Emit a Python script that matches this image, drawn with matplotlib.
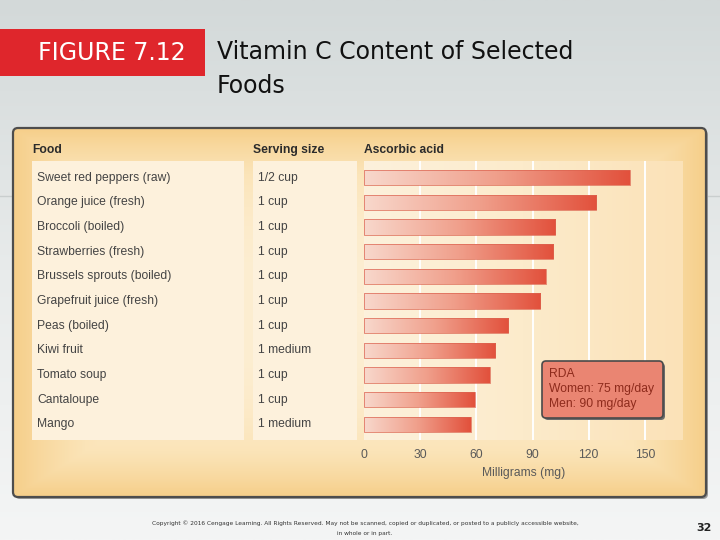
import numpy as np
import matplotlib
matplotlib.use("Agg")
import matplotlib.pyplot as plt
from matplotlib.patches import Rectangle, FancyBboxPatch
from matplotlib.transforms import blended_transform_factory
from matplotlib.colors import LinearSegmentedColormap

foods = ["Sweet red peppers (raw)", "Orange juice (fresh)", "Broccoli (boiled)",
         "Strawberries (fresh)", "Brussels sprouts (boiled)", "Grapefruit juice (fresh)",
         "Peas (boiled)", "Kiwi fruit", "Tomato soup", "Cantaloupe", "Mango"]
servings = ["1/2 cup", "1 cup", "1 cup", "1 cup", "1 cup", "1 cup",
            "1 cup", "1 medium", "1 cup", "1 cup", "1 medium"]
ascorbic_mg = [142, 124, 102, 101, 97, 94, 77, 70, 67, 59, 57]
xticks = [0, 30, 60, 90, 120, 150]
rda_lines = ["RDA", "Women: 75 mg/day", "Men: 90 mg/day"]

W, H = 720, 540
fig = plt.figure(figsize=(7.2, 5.4), dpi=100)

# background axes in pixel coordinates
bg = fig.add_axes([0, 0, 1, 1], zorder=0)
bg.set_xlim(0, W)
bg.set_ylim(H, 0)
bg.axis("off")

# slide background gradient
slide = np.linspace(0, 1, 256).reshape(-1, 1)
slide_cmap = LinearSegmentedColormap.from_list("slide", ["#d3d9d9", "#e8ebeb", "#f4f5f5"])
bg.imshow(slide, extent=(0, W, H, 0), cmap=slide_cmap, aspect="auto", zorder=0)
bg.plot([0, W], [196, 196], color="#c9cece", lw=1, zorder=1)

# title block
bg.add_patch(Rectangle((0, 29), 205, 47, facecolor="#df262c", edgecolor="none", zorder=2))
bg.text(112, 53, "FIGURE 7.12", color="white", fontsize=17, ha="center", va="center",
        family="DejaVu Sans", zorder=3)
bg.text(217, 52, "Vitamin C Content of Selected", color="#111111", fontsize=17,
        va="center", family="DejaVu Sans", zorder=3)
bg.text(217, 86, "Foods", color="#111111", fontsize=17,
        va="center", family="DejaVu Sans", zorder=3)

# panel with warm gradient
shadow = FancyBboxPatch((15, 130), 693, 369, boxstyle="round,pad=0,rounding_size=5",
                        facecolor="#9a9a9a", edgecolor="none", zorder=2)
bg.add_patch(shadow)
gx = np.linspace(-1, 1, 300)
gy = np.linspace(-1, 1, 200)
GX, GY = np.meshgrid(gx, gy)
warm = np.maximum(np.abs(GX) ** 3, np.abs(GY) ** 2.5)
warm_cmap = LinearSegmentedColormap.from_list("warm", ["#fdeed2", "#fbe4b8", "#f6cf8a"])
im = bg.imshow(warm, extent=(13, 706, 497, 128), cmap=warm_cmap, aspect="auto", zorder=3)
clip = FancyBboxPatch((13, 128), 693, 369, boxstyle="round,pad=0,rounding_size=5",
                      facecolor="none", edgecolor="none", transform=bg.transData)
bg.add_patch(clip)
im.set_clip_path(clip)
bg.add_patch(FancyBboxPatch((13, 128), 693, 369, boxstyle="round,pad=0,rounding_size=5",
                            facecolor="none", edgecolor="#4d4d4d", lw=1.6, zorder=4))

# column boxes
bg.add_patch(Rectangle((32, 161), 212, 279, facecolor="#fdf1dc", edgecolor="none", zorder=5))
bg.add_patch(Rectangle((253, 161), 104, 279, facecolor="#fdf1dc", edgecolor="none", zorder=5))

hdr = dict(fontsize=8.7, fontweight="bold", color="#2b2b2b", va="center",
           family="Liberation Sans", zorder=6)
bg.text(32, 150, "Food", **hdr)
bg.text(253, 150, "Serving size", **hdr)
bg.text(364, 150, "Ascorbic acid", **hdr)

# footer
bg.text(365, 523, "Copyright © 2016 Cengage Learning. All Rights Reserved. May not be scanned, copied or duplicated, or posted to a publicly accessible website,",
        fontsize=4.2, ha="center", va="center", color="#333333")
bg.text(365, 533, "in whole or in part.", fontsize=4.2, ha="center", va="center", color="#333333")
bg.text(712, 528, "32", fontsize=8, ha="right", va="center", color="#222222", fontweight="bold")

# bar axes
ax = fig.add_axes([364 / W, 1 - 440 / H, (683 - 364) / W, (440 - 161) / H], zorder=2)
ax.patch.set_alpha(0)
for s in ax.spines.values():
    s.set_visible(False)
ax.set_yticks([])
ax.set_xticks(xticks)
ax.tick_params(axis="x", length=0, pad=6.5, labelsize=8.7, labelcolor="#5a5a5a")
for lab in ax.get_xticklabels():
    lab.set_family("Liberation Sans")
ax.set_xlabel("Milligrams (mg)", fontsize=8.7, color="#5a5a5a", labelpad=4,
              family="Liberation Sans")

ylo, yhi = 10.64, -0.68
# bar area background
area = np.linspace(0, 1, 256).reshape(1, -1)
area_cmap = LinearSegmentedColormap.from_list("area", ["#fdf1dc", "#fcebcb", "#fbe2b8"])
ax.imshow(area, extent=(0, 170.3, ylo, yhi), cmap=area_cmap, aspect="auto", zorder=0)
for t in xticks[1:]:
    ax.axvline(t, color="white", lw=1.4, zorder=1)

y = np.arange(len(foods))
bars = ax.barh(y, ascorbic_mg, height=0.62, color="none", edgecolor="#dc6450", lw=0.5, zorder=3)
bar_cmap = LinearSegmentedColormap.from_list("bar", ["#f8d8cc", "#f09f8b", "#e2513c"])
grad = np.linspace(0, 1, 256).reshape(1, -1)
for b in bars:
    x0, y0, w, h = b.get_x(), b.get_y(), b.get_width(), b.get_height()
    g = ax.imshow(grad, extent=(x0, x0 + w, y0 + h, y0), cmap=bar_cmap, aspect="auto", zorder=2)
    g.set_clip_path(b)
ax.set_xlim(0, 170.3)
ax.set_ylim(ylo, yhi)

# table text
tr = blended_transform_factory(bg.transData, ax.transData)
for i in range(len(foods)):
    ax.text(37, y[i], foods[i], transform=tr, fontsize=8.7, color="#444444",
            va="center", family="Liberation Sans", clip_on=False)
    ax.text(258, y[i], servings[i], transform=tr, fontsize=8.7, color="#444444",
            va="center", family="Liberation Sans", clip_on=False)

# RDA callout on an overlay
top = fig.add_axes([0, 0, 1, 1], zorder=3)
top.set_xlim(0, W)
top.set_ylim(H, 0)
top.axis("off")
top.add_patch(FancyBboxPatch((544, 363), 121, 57, boxstyle="round,pad=0,rounding_size=4",
                             facecolor="#6b6b6b", edgecolor="none", zorder=1))
top.add_patch(FancyBboxPatch((542, 361), 121, 57, boxstyle="round,pad=0,rounding_size=4",
                             facecolor="#ea8572", edgecolor="#4a4a4a", lw=1.2, zorder=2))
for k, line in enumerate(rda_lines):
    top.text(549, 374 + k * 15, line, fontsize=8.7, color="#8e2b1c", va="center",
             family="Liberation Sans", zorder=3)

fig.savefig("out.png", dpi=100)
